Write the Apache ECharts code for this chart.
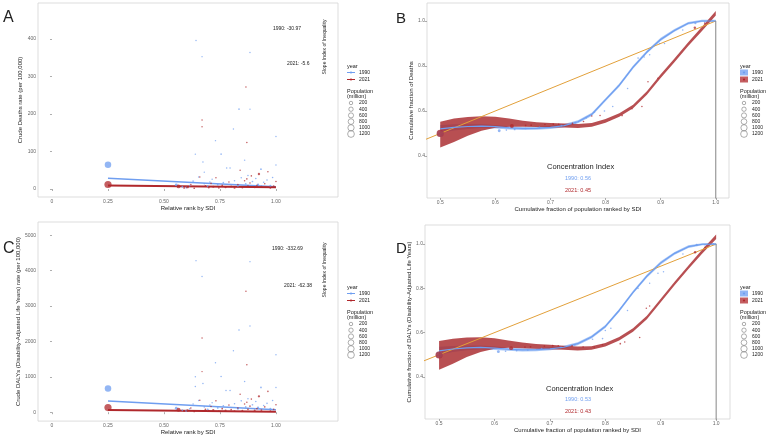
<!DOCTYPE html>
<html>
<head>
<meta charset="utf-8">
<title>Inequality</title>
<script src="https://cdn.jsdelivr.net/npm/echarts@6.0.0/dist/echarts.min.js"></script>
<style>
  html, body { margin: 0; padding: 0; background: #fff; }
  #chart { width: 767px; height: 436px; }
</style>
</head>
<body>
<div id="chart"></div>
<script>
// ---- tick values ----
const rankTicks = [0, 0.25, 0.5, 0.75, 1];
const rankTickLabels = ['0', '0.25', '0.50', '0.75', '1.00'];
const deathTicks = [0, 100, 200, 300, 400];
const dalyTicks = [0, 1000, 2000, 3000, 4000, 5000];
const cumXTicks = [0.5, 0.6, 0.7, 0.8, 0.9, 1.0];
const cumYTicks = [0.4, 0.6, 0.8, 1.0];
const popKeys = [200, 400, 600, 800, 1000, 1200];
const years = ['1990', '2021'];

// ---- A: deaths rate vs rank, [rank, rate, population(million)] ----
const deaths1990 = [[0.25,65,1100],[0.555,11,110],[0.582,6,15],[0.60,4,40],[0.615,9,8],[0.63,21,5],[0.643,396,2],[0.655,32,4],[0.67,353,2],[0.674,72,3],[0.68,14,6],[0.695,8,20],[0.705,19,4],[0.715,26,3],[0.73,129,2],[0.74,11,12],[0.755,93,5],[0.765,17,8],[0.78,56,3],[0.795,56,4],[0.81,160,2],[0.815,22,6],[0.83,9,30],[0.835,213,7],[0.845,30,5],[0.86,77,3],[0.865,14,9],[0.875,36,4],[0.884,364,2],[0.884,213,2],[0.895,20,10],[0.91,28,6],[0.92,12,45],[0.933,53,12],[0.945,18,5],[0.96,24,8],[0.975,9,20],[0.985,31,4],[1.0,140,2],[1.0,64,3],[0.64,93,2],[0.68,45,2]];
const deaths2021 = [[0.25,12,1400],[0.565,7,280],[0.59,3,20],[0.605,5,60],[0.62,12,6],[0.635,2,10],[0.66,32,3],[0.67,184,3],[0.67,166,2],[0.685,8,15],[0.70,4,25],[0.71,15,5],[0.72,6,40],[0.732,30,4],[0.745,3,8],[0.76,10,12],[0.775,5,30],[0.79,19,4],[0.80,7,10],[0.815,3,20],[0.83,12,6],[0.84,50,4],[0.85,4,15],[0.86,22,5],[0.866,272,4],[0.87,124,4],[0.87,27,6],[0.875,8,12],[0.884,16,8],[0.89,35,5],[0.905,5,25],[0.915,10,7],[0.924,40,50],[0.935,6,18],[0.95,14,6],[0.964,46,6],[0.975,3,10],[0.99,8,5],[1.0,20,5]];
const fitRank = [0.25, 1.0];
const deathsFit1990 = [29, 5.8];
const deathsFit2021 = [9.2, 5.0];

// ---- C: DALYs rate vs rank ----
const dalys1990 = [[0.25,672,1100],[0.555,110,110],[0.582,60,15],[0.60,40,40],[0.615,95,8],[0.63,230,5],[0.643,4285,2],[0.64,1000,2],[0.64,728,3],[0.655,330,4],[0.67,3837,2],[0.674,812,3],[0.68,150,6],[0.695,80,20],[0.705,200,4],[0.715,270,3],[0.73,1400,2],[0.74,120,12],[0.755,1008,5],[0.765,180,8],[0.777,616,3],[0.795,616,4],[0.81,1736,2],[0.815,240,6],[0.83,95,30],[0.835,2325,7],[0.845,320,5],[0.86,868,3],[0.865,150,9],[0.875,380,4],[0.884,4257,2],[0.884,2437,2],[0.895,210,10],[0.91,300,6],[0.92,130,45],[0.933,700,12],[0.945,190,5],[0.96,250,8],[0.975,95,20],[0.985,330,4],[1.0,1624,2],[1.0,700,3]];
const dalys2021 = [[0.25,130,1400],[0.565,70,280],[0.59,30,20],[0.605,50,60],[0.62,120,6],[0.635,20,10],[0.66,340,3],[0.67,2100,3],[0.67,1148,2],[0.685,80,15],[0.70,40,25],[0.71,160,5],[0.72,60,40],[0.732,320,4],[0.745,30,8],[0.76,100,12],[0.775,50,30],[0.79,200,4],[0.80,70,10],[0.815,30,20],[0.83,120,6],[0.84,504,4],[0.85,40,15],[0.86,230,5],[0.866,3417,4],[0.87,1344,4],[0.87,280,6],[0.875,80,12],[0.884,170,8],[0.89,370,5],[0.905,50,25],[0.915,100,7],[0.924,448,50],[0.935,60,18],[0.95,150,6],[0.964,588,6],[0.975,30,10],[0.99,80,5],[1.0,210,5]];
const dalysFit1990 = [317, 67];
const dalysFit2021 = [62, 15];

// ---- B / D: concentration curves ----
const curveX = [0.5,0.525,0.55,0.575,0.6,0.625,0.65,0.675,0.7,0.725,0.75,0.775,0.8,0.825,0.85,0.875,0.9,0.925,0.95,0.975,1.0];
const diagX = [0, 1];

const deathCurve1990 = [0.52,0.527,0.531,0.533,0.53,0.525,0.522,0.523,0.527,0.535,0.552,0.585,0.65,0.715,0.795,0.862,0.918,0.958,0.99,1.0,1.0];
const deathLo1990 = [0.502,0.513,0.52,0.524,0.522,0.518,0.515,0.516,0.52,0.528,0.545,0.578,0.643,0.708,0.788,0.855,0.911,0.952,0.984,0.995,0.995];
const deathHi1990 = [0.538,0.541,0.542,0.542,0.538,0.532,0.529,0.53,0.534,0.542,0.559,0.592,0.657,0.722,0.802,0.869,0.925,0.964,0.996,1.005,1.005];
const deathCurve2021 = [0.495,0.514,0.532,0.544,0.55,0.548,0.543,0.539,0.537,0.535,0.533,0.538,0.556,0.582,0.62,0.68,0.755,0.825,0.897,0.965,1.034];
const deathLo2021 = [0.438,0.462,0.49,0.512,0.525,0.53,0.53,0.529,0.527,0.526,0.524,0.53,0.548,0.574,0.612,0.672,0.747,0.817,0.889,0.956,1.024];
const deathHi2021 = [0.552,0.566,0.573,0.576,0.574,0.566,0.557,0.55,0.547,0.544,0.542,0.546,0.564,0.59,0.628,0.688,0.763,0.833,0.905,0.974,1.044];
const deathCum1990 = [[0.5,0.5,1100],[0.607,0.512,110],[0.62,0.515,8],[0.635,0.518,15],[0.655,0.522,10],[0.68,0.527,20],[0.72,0.535,12],[0.745,0.548,8],[0.765,0.57,10],[0.78,0.595,6],[0.798,0.6,8],[0.813,0.62,5],[0.84,0.7,4],[0.859,0.835,6],[0.87,0.84,3],[0.88,0.85,5],[0.898,0.9,3],[0.907,0.9,4],[0.94,0.96,5],[0.963,0.99,40],[0.98,0.995,6],[0.995,1.0,4]];
const deathCum2021 = [[0.5,0.5,1400],[0.63,0.533,280],[0.655,0.536,10],[0.665,0.537,15],[0.69,0.54,8],[0.705,0.542,12],[0.715,0.541,6],[0.74,0.545,10],[0.76,0.553,8],[0.775,0.578,5],[0.79,0.58,6],[0.83,0.58,10],[0.848,0.61,5],[0.866,0.62,6],[0.877,0.73,5],[0.895,0.745,4],[0.962,0.97,60],[0.98,0.99,6]];

const dalyCurve1990 = [0.518,0.526,0.531,0.533,0.53,0.525,0.522,0.523,0.527,0.534,0.55,0.58,0.628,0.7,0.782,0.855,0.915,0.958,0.988,0.999,1.0];
const dalyLo1990 = [0.5,0.512,0.52,0.524,0.522,0.518,0.515,0.516,0.52,0.527,0.543,0.573,0.621,0.693,0.775,0.848,0.908,0.952,0.982,0.994,0.995];
const dalyHi1990 = [0.536,0.54,0.542,0.542,0.538,0.532,0.529,0.53,0.534,0.541,0.557,0.587,0.635,0.707,0.789,0.862,0.922,0.964,0.994,1.004,1.005];
const dalyCurve2021 = [0.497,0.516,0.534,0.546,0.551,0.548,0.542,0.538,0.535,0.532,0.528,0.531,0.545,0.572,0.612,0.668,0.745,0.822,0.895,0.966,1.033];
const dalyLo2021 = [0.432,0.46,0.49,0.513,0.527,0.532,0.529,0.527,0.525,0.523,0.519,0.523,0.537,0.564,0.604,0.66,0.737,0.814,0.887,0.957,1.023];
const dalyHi2021 = [0.562,0.572,0.578,0.579,0.575,0.564,0.555,0.549,0.545,0.541,0.537,0.539,0.553,0.58,0.62,0.676,0.753,0.83,0.903,0.975,1.043];
const dalyCum1990 = [[0.5,0.5,1100],[0.607,0.514,110],[0.62,0.516,8],[0.64,0.519,15],[0.66,0.522,10],[0.685,0.527,20],[0.72,0.533,12],[0.745,0.545,8],[0.777,0.57,6],[0.795,0.573,8],[0.80,0.61,5],[0.81,0.62,5],[0.84,0.7,4],[0.859,0.8,6],[0.88,0.823,3],[0.895,0.868,5],[0.905,0.875,3],[0.94,0.955,5],[0.965,0.996,40],[0.98,0.997,6],[0.995,1.0,4]];
const dalyCum2021 = [[0.5,0.499,1400],[0.63,0.53,280],[0.655,0.535,10],[0.665,0.536,15],[0.69,0.539,8],[0.705,0.541,12],[0.715,0.54,6],[0.74,0.54,10],[0.76,0.535,8],[0.78,0.535,5],[0.795,0.545,6],[0.827,0.55,10],[0.835,0.558,5],[0.862,0.578,6],[0.874,0.71,5],[0.88,0.72,4],[0.962,0.963,60],[0.98,0.985,6]];

const FONT = '"Liberation Sans", Arial, sans-serif';
const BLUE = '#6f9ef0';
const RED = '#b0282c';
const ORANGE = '#e2a03a';

const sizeOf = p => 1.2 + Math.sqrt(p) * 0.16;

function axis(gi, min, max, ticks, fmt, name, gap) {
  return {
    type: 'value', gridIndex: gi, min: min, max: max,
    name: name, nameLocation: 'middle', nameGap: gap,
    nameTextStyle: { fontSize: 6, color: '#222', fontFamily: FONT },
    axisLine: { show: false },
    splitLine: { show: false },
    axisTick: { show: true, length: 2, lineStyle: { color: '#777', width: 0.6 }, customValues: ticks },
    axisLabel: { fontSize: 5, color: '#666', margin: 2, fontFamily: FONT, customValues: ticks, formatter: fmt }
  };
}
const rankFmt = v => rankTickLabels[rankTicks.indexOf(v)];
const oneDec = v => v.toFixed(1);
const intFmt = v => String(v);

function pts(xs, ys) { return xs.map((x, i) => [x, ys[i]]); }

function scatter(gi, data, color) {
  return { type: 'scatter', xAxisIndex: gi, yAxisIndex: gi, data: data, silent: true,
    symbolSize: d => sizeOf(d[2]), itemStyle: { color: color, opacity: 0.75 } };
}
function line(gi, data, color, width, z) {
  return { type: 'line', xAxisIndex: gi, yAxisIndex: gi, data: data, silent: true, symbol: 'none',
    clip: true, lineStyle: { color: color, width: width }, z: z || 2 };
}
function band(gi, xs, lo, hi, color, opacity) {
  return {
    type: 'custom', xAxisIndex: gi, yAxisIndex: gi, silent: true, clip: true,
    data: xs.map((x, i) => [x, lo[i], hi[i]]),
    encode: { x: 0, y: [1, 2] },
    renderItem: function (params, api) {
      if (params.dataIndex !== 0) return null;
      const p = [];
      for (let i = 0; i < xs.length; i++) p.push(api.coord([xs[i], hi[i]]));
      for (let i = xs.length - 1; i >= 0; i--) p.push(api.coord([xs[i], lo[i]]));
      return { type: 'polygon', shape: { points: p }, style: { fill: color, opacity: opacity } };
    }
  };
}

function txt(x, y, s, opt) {
  opt = opt || {};
  return { type: 'text', x: x, y: y, rotation: opt.rot || 0, silent: true,
    style: { text: s, fill: opt.color || '#222', fontSize: opt.size || 5, fontFamily: FONT,
      align: opt.align || 'left', verticalAlign: 'middle', fontWeight: opt.weight || 'normal' } };
}

// legend key drawn as graphics
function legendKey(lx, oy, isBand) {
  const els = [txt(lx, oy + 66, 'year', { size: 5.5 })];
  [BLUE, RED].forEach((c, i) => {
    const y = oy + 72.5 + i * 7;
    if (isBand) {
      els.push({ type: 'rect', shape: { x: lx, y: y - 3, width: 8, height: 6 }, style: { fill: c, opacity: 0.75 }, silent: true });
    } else {
      els.push({ type: 'line', shape: { x1: lx, y1: y, x2: lx + 8, y2: y }, style: { stroke: c, lineWidth: 1 }, silent: true });
    }
    els.push({ type: 'circle', shape: { cx: lx + 4, cy: y, r: 1.1 }, style: { fill: c }, silent: true });
    els.push(txt(lx + 12, y, years[i], { size: 5 }));
  });
  els.push(txt(lx, oy + 91, 'Population', { size: 5.5 }));
  els.push(txt(lx, oy + 96.5, '(million)', { size: 5.5 }));
  popKeys.forEach((p, i) => {
    const y = oy + 103 + i * 6.2;
    els.push({ type: 'circle', shape: { cx: lx + 4, cy: y, r: sizeOf(p) / 2 }, style: { fill: 'none', stroke: '#777', lineWidth: 0.6 }, silent: true });
    els.push(txt(lx + 12, y, String(p), { size: 5 }));
  });
  return els;
}

const grids = [
  { left: 38, top: 3, width: 300, height: 194 },
  { left: 427, top: 3, width: 302, height: 195 },
  { left: 38, top: 222, width: 300, height: 201 },
  { left: 425, top: 225, width: 305, height: 194 }
].map(g => Object.assign(g, { show: true, borderColor: '#d4d4d4', borderWidth: 0.8 }));

const xAxes = [
  axis(0, -0.0625, 1.277, rankTicks, rankFmt, 'Relative rank by SDI', 4),
  axis(1, 0.476, 1.024, cumXTicks, oneDec, 'Cumulative fraction of population ranked by SDI', 4),
  axis(2, -0.0625, 1.277, rankTicks, rankFmt, 'Relative rank by SDI', 4),
  axis(3, 0.4746, 1.025, cumXTicks, oneDec, 'Cumulative fraction of population ranked by SDI', 4)
];
const yAxes = [
  axis(0, -21.3, 496, deathTicks, intFmt, 'Crude Deaths rate (per 100,000)', 7),
  axis(1, 0.213, 1.08, cumYTicks, oneDec, 'Cumulative fraction of Deaths', 10),
  axis(2, -252, 5378, dalyTicks, intFmt, 'Crude DALYs (Disability-Adjusted Life Years) rate (per 100,000)', 10),
  axis(3, 0.21, 1.086, cumYTicks, oneDec, 'Cumulative fraction of DALYs (Disability-Adjusted Life Years)', 9)
];

const series = [
  // A
  line(0, pts(fitRank, deathsFit1990), BLUE, 1.5),
  line(0, pts(fitRank, deathsFit2021), RED, 2),
  scatter(0, deaths1990, BLUE),
  scatter(0, deaths2021, RED),
  // B
  line(1, pts(diagX, diagX), ORANGE, 1),
  line(1, [[1, 0], [1, 1]], '#666', 0.8),
  band(1, curveX, deathLo1990, deathHi1990, '#8fb6f5', 0.8),
  line(1, pts(curveX, deathCurve1990), BLUE, 1.2),
  band(1, curveX, deathLo2021, deathHi2021, '#a8282c', 0.82),
  scatter(1, deathCum1990, BLUE),
  scatter(1, deathCum2021, RED),
  // C
  line(2, pts(fitRank, dalysFit1990), BLUE, 1.5),
  line(2, pts(fitRank, dalysFit2021), RED, 2),
  scatter(2, dalys1990, BLUE),
  scatter(2, dalys2021, RED),
  // D
  line(3, pts(diagX, diagX), ORANGE, 1),
  line(3, [[1, 0], [1, 1]], '#666', 0.8),
  band(3, curveX, dalyLo1990, dalyHi1990, '#8fb6f5', 0.8),
  line(3, pts(curveX, dalyCurve1990), BLUE, 1.2),
  band(3, curveX, dalyLo2021, dalyHi2021, '#a8282c', 0.82),
  scatter(3, dalyCum1990, BLUE),
  scatter(3, dalyCum2021, RED)
];

const graphic = [].concat(
  txt(3, 17.5, 'A', { size: 16 }),
  txt(396, 18.5, 'B', { size: 15 }),
  txt(3, 248.5, 'C', { size: 16 }),
  txt(396, 249, 'D', { size: 15 }),
  // slope index annotations
  txt(273, 29, '1990: -30.97'), txt(287, 64, '2021: -5.6'),
  txt(325, 47, 'Slope Index of Inequality', { rot: Math.PI / 2, align: 'center', size: 5 }),
  txt(272, 249, '1990: -332.69'), txt(284, 286, '2021: -62.38'),
  txt(325, 270, 'Slope Index of Inequality', { rot: Math.PI / 2, align: 'center', size: 5 }),
  // concentration index annotations
  txt(547, 167, 'Concentration Index', { size: 7.5 }),
  txt(565, 178, '1990: 0.56', { color: BLUE, size: 5.5 }),
  txt(565, 190, '2021: 0.45', { color: RED, size: 5.5 }),
  txt(546, 389, 'Concentration Index', { size: 7.5 }),
  txt(565, 399, '1990: 0.53', { color: BLUE, size: 5.5 }),
  txt(565, 411, '2021: 0.43', { color: RED, size: 5.5 }),
  legendKey(347, 0, false),
  legendKey(740, 0, true),
  legendKey(347, 221, false),
  legendKey(740, 221, true)
);

const chart = echarts.init(document.getElementById('chart'));
chart.setOption({
  animation: false,
  backgroundColor: '#fff',
  textStyle: { fontFamily: FONT },
  grid: grids,
  xAxis: xAxes,
  yAxis: yAxes,
  series: series,
  graphic: graphic
});
</script>
</body>
</html>
